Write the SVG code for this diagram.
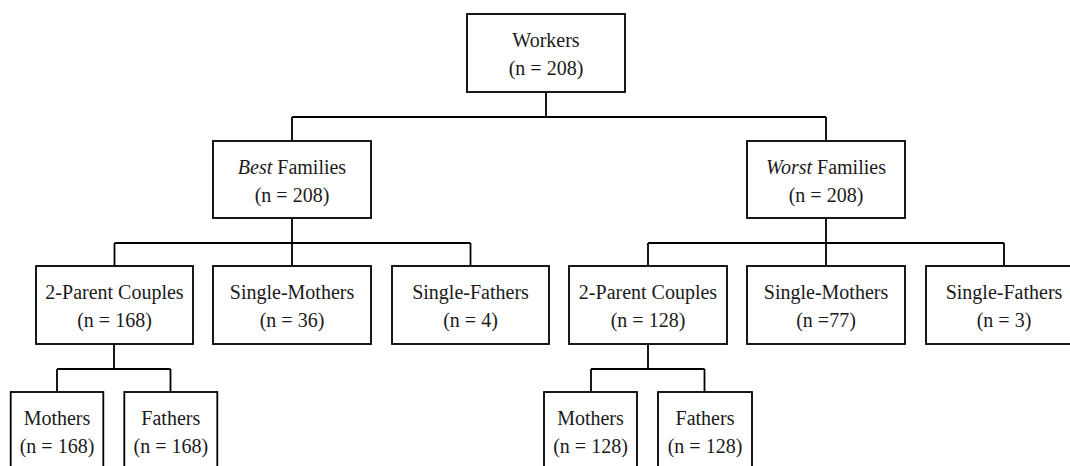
<svg xmlns="http://www.w3.org/2000/svg" width="1070" height="466" viewBox="0 0 1070 466">
<style>
.box{fill:#fff;stroke:#000;stroke-width:1.8}
.conn{fill:none;stroke:#000;stroke-width:1.8}
text{font-family:'Liberation Serif','Times New Roman',serif;font-size:20px;fill:#1a1a1a;text-anchor:middle}
.it{font-style:italic}
</style>
<rect width="1070" height="466" fill="#fff"/>
<g id="connectors">
<path class="conn" d="M546,92V117M292,117H826M292,117V141M826,117V141"/>
<path class="conn" d="M292,218V243M114.5,243H470.5M114.5,243V266M292,243V266M470.5,243V266"/>
<path class="conn" d="M826,218V243M648,243H1004M648,243V266M826,243V266M1004,243V266"/>
<path class="conn" d="M114,344V369M57,369H170.5M57,369V392M170.5,369V392"/>
<path class="conn" d="M648,344V369M591,369H704.5M591,369V392M704.5,369V392"/>
</g>
<g id="workers"><rect class="box" x="467" y="14" width="158" height="78"/><text x="546" y="46.5">Workers</text><text x="546" y="75">(n = 208)</text></g>
<g id="best"><rect class="box" x="213" y="141" width="158" height="77"/><text x="292" y="173.5"><tspan class="it">Best</tspan> Families</text><text x="292" y="202">(n = 208)</text></g>
<g id="worst"><rect class="box" x="747" y="141" width="158" height="77"/><text x="826" y="173.5"><tspan class="it">Worst</tspan> Families</text><text x="826" y="202">(n = 208)</text></g>
<g id="best-couples"><rect class="box" x="36" y="266" width="157" height="78"/><text x="114.5" y="298.5">2-Parent Couples</text><text x="114.5" y="327">(n = 168)</text></g>
<g id="best-single-mothers"><rect class="box" x="213" y="266" width="158" height="78"/><text x="292" y="298.5">Single-Mothers</text><text x="292" y="327">(n = 36)</text></g>
<g id="best-single-fathers"><rect class="box" x="392" y="266" width="157" height="78"/><text x="470.5" y="298.5">Single-Fathers</text><text x="470.5" y="327">(n = 4)</text></g>
<g id="worst-couples"><rect class="box" x="569" y="266" width="158" height="78"/><text x="648" y="298.5">2-Parent Couples</text><text x="648" y="327">(n = 128)</text></g>
<g id="worst-single-mothers"><rect class="box" x="747" y="266" width="158" height="78"/><text x="826" y="298.5">Single-Mothers</text><text x="826" y="327">(n =77)</text></g>
<g id="worst-single-fathers"><rect class="box" x="926" y="266" width="157" height="78"/><text x="1004" y="298.5">Single-Fathers</text><text x="1004" y="327">(n = 3)</text></g>
<g id="best-mothers"><rect class="box" x="10.7" y="392" width="92.6" height="80"/><text x="57" y="424.5">Mothers</text><text x="57" y="453">(n = 168)</text></g>
<g id="best-fathers"><rect class="box" x="124.3" y="392" width="93" height="80"/><text x="170.8" y="424.5">Fathers</text><text x="170.8" y="453">(n = 168)</text></g>
<g id="worst-mothers"><rect class="box" x="544" y="392" width="93" height="80"/><text x="590.5" y="424.5">Mothers</text><text x="590.5" y="453">(n = 128)</text></g>
<g id="worst-fathers"><rect class="box" x="658" y="392" width="94" height="80"/><text x="705" y="424.5">Fathers</text><text x="705" y="453">(n = 128)</text></g>
</svg>
